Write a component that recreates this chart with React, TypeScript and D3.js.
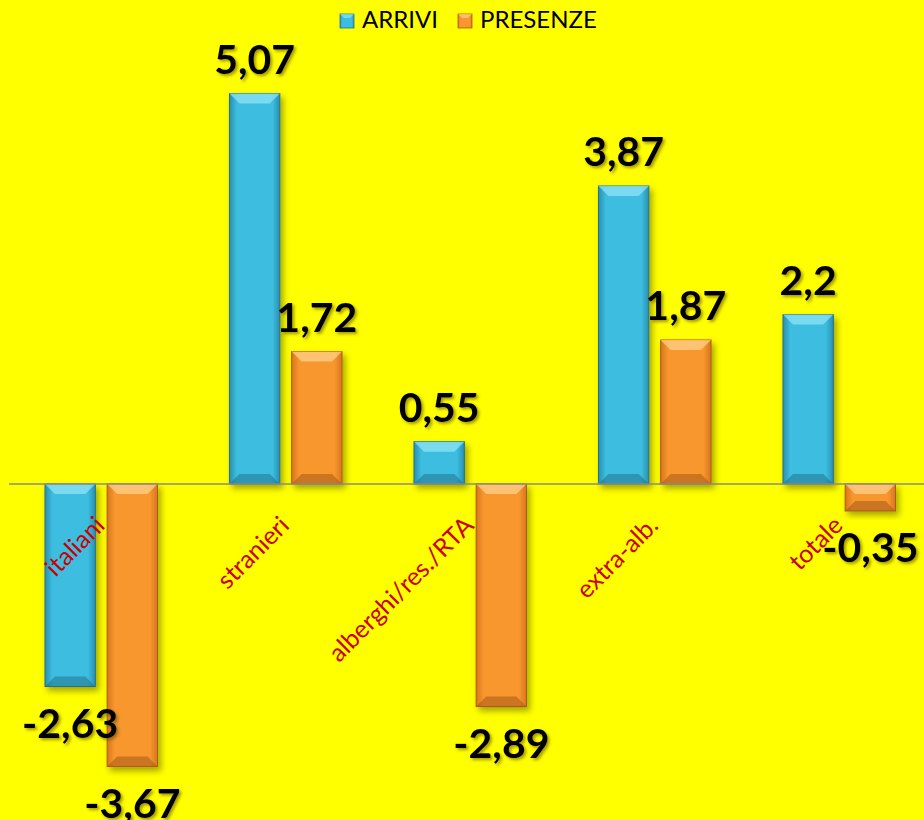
import * as d3 from 'd3';

const categories = ['italiani', 'stranieri', 'alberghi/res./RTA', 'extra-alb.', 'totale'];
const seriesNames = ['ARRIVI', 'PRESENZE'];
const arrivi = [-2.63, 5.07, 0.55, 3.87, 2.2];
const presenze = [-3.67, 1.72, -2.89, 1.87, -0.35];

const width = 924;
const height = 820;
const zeroY = 484;
const pxPerUnit = 77;

const palette: Record<string, { light: string; mid: string; dark: string; edge: string }> = {
  ARRIVI: { light: '#8FE3F5', mid: '#3DBEE0', dark: '#2A8FB0', edge: '#21728C' },
  PRESENZE: { light: '#FFD08A', mid: '#F7972E', dark: '#D97520', edge: '#A85A18' },
};

const fmt = (v: number) => String(v).replace('.', ',');

export default function App() {
  const x0 = d3
    .scaleBand<string>()
    .domain(categories)
    .range([9, 9 + 184.5 * categories.length])
    .paddingInner(0.39)
    .paddingOuter(0.195);
  const x1 = d3
    .scaleBand<string>()
    .domain(seriesNames)
    .range([0, x0.bandwidth()])
    .paddingInner(0.19);
  const y = d3
    .scaleLinear()
    .domain([-5, 6])
    .range([zeroY + 5 * pxPerUnit, zeroY - 6 * pxPerUnit]);

  const rows = categories.map((c, i) => ({
    category: c,
    values: [
      { series: 'ARRIVI', value: arrivi[i] },
      { series: 'PRESENZE', value: presenze[i] },
    ],
  }));

  const bw = x1.bandwidth();

  return (
    <svg width={width} height={height} style={{ display: 'block', position: 'absolute', left: 0, top: 0 }}>
      <style>{`body{margin:0}`}</style>
      <defs>
        {seriesNames.map((s) => (
          <linearGradient key={s} id={`g-${s}`} x1="0" x2="1" y1="0" y2="0">
            <stop offset="0" stopColor={palette[s].dark} />
            <stop offset="0.15" stopColor={palette[s].mid} />
            <stop offset="0.85" stopColor={palette[s].mid} />
            <stop offset="1" stopColor={palette[s].dark} />
          </linearGradient>
        ))}
        <filter id="barShadow" x="-20%" y="-20%" width="150%" height="150%">
          <feDropShadow dx="3" dy="4" stdDeviation="3" floodColor="#000" floodOpacity="0.35" />
        </filter>
        <filter id="textShadow" x="-20%" y="-20%" width="140%" height="150%">
          <feDropShadow dx="2" dy="2" stdDeviation="1.5" floodColor="#5a4a00" floodOpacity="0.55" />
        </filter>
      </defs>
      <rect x={0} y={0} width={width} height={height} fill="#FFFF00" />

      {/* Bars */}
      {rows.map((r) => (
        <g key={r.category} transform={`translate(${x0(r.category)},0)`}>
          {r.values.map((d) => {
            const bx = x1(d.series) || 0;
            const top = Math.min(y(d.value), y(0));
            const h = Math.abs(y(d.value) - y(0));
            const bev = Math.min(10, h / 2);
            const c = palette[d.series];
            return (
              <g key={d.series} filter="url(#barShadow)">
                <rect x={bx} y={top} width={bw} height={h} fill={`url(#g-${d.series})`} stroke={c.edge} strokeWidth={1} />
                <polygon
                  points={`${bx},${top} ${bx + bw},${top} ${bx + bw - bev},${top + bev} ${bx + bev},${top + bev}`}
                  fill={c.light}
                  opacity={0.75}
                />
                <polygon
                  points={`${bx},${top + h} ${bx + bw},${top + h} ${bx + bw - bev},${top + h - bev} ${bx + bev},${top + h - bev}`}
                  fill={c.edge}
                  opacity={0.55}
                />
              </g>
            );
          })}
        </g>
      ))}

      {/* Zero line */}
      <line x1={9} x2={width} y1={y(0)} y2={y(0)} stroke="#8a8a8a" strokeWidth={1.5} />

      {/* Category labels */}
      {categories.map((c) => {
        const cx = (x0(c) || 0) + x0.bandwidth() / 2 + 5;
        return (
          <text
            key={c}
            transform={`translate(${cx},${y(0) + 43}) rotate(-45)`}
            textAnchor="end"
            fontFamily="Lato, 'Open Sans', sans-serif"
            fontSize={25}
            fill="#CC0000"
          >
            {c}
          </text>
        );
      })}

      {/* Value labels */}
      {rows.map((r) =>
        r.values.map((d) => {
          const cx = (x0(r.category) || 0) + (x1(d.series) || 0) + bw / 2;
          const by = d.value >= 0 ? y(d.value) - 20 : y(d.value) + 51;
          return (
            <text
              key={r.category + d.series}
              x={cx}
              y={by}
              textAnchor="middle"
              fontFamily="Lato, 'Open Sans', sans-serif"
              fontWeight="bold"
              fontSize={41}
              fill="#000"
              filter="url(#textShadow)"
            >
              {fmt(d.value)}
            </text>
          );
        })
      )}

      {/* Legend */}
      {seriesNames.map((s, i) => {
        const lx = i === 0 ? 340 : 458;
        const c = palette[s];
        return (
          <g key={s} transform={`translate(${lx},14)`}>
            <rect x={0} y={0} width={14} height={14} fill={`url(#g-${s})`} stroke={c.edge} strokeWidth={0.8} />
            <polygon points="0,0 14,0 10,4 4,4" fill={c.light} opacity={0.7} />
            <text x={22} y={14} fontFamily="Lato, 'Open Sans', sans-serif" fontSize={24} fill="#000">
              {s}
            </text>
          </g>
        );
      })}
    </svg>
  );
}
